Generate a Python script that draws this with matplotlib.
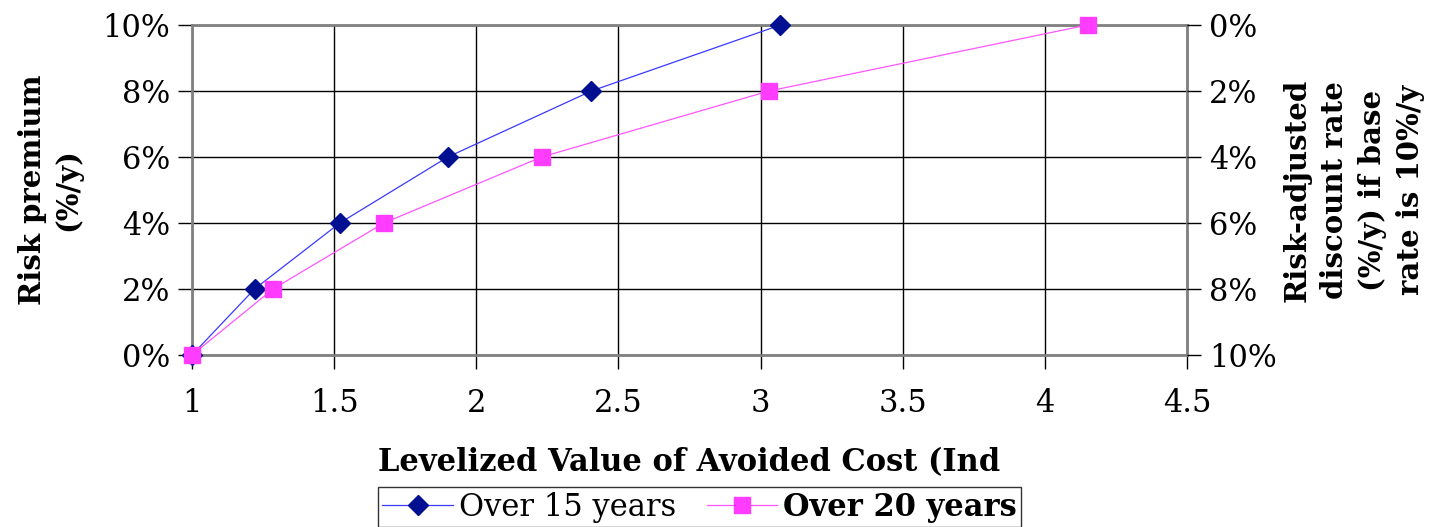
import numpy as np
import matplotlib.pyplot as plt
from matplotlib.ticker import FuncFormatter, MultipleLocator

# Levelized value vs. risk premium, two horizons
risk_premium = [0, 2, 4, 6, 8, 10]
value_15y = [1.0, 1.22, 1.52, 1.90, 2.405, 3.07]
value_20y = [1.0, 1.285, 1.675, 2.23, 3.03, 4.15]
base_rate = 10

plt.rcParams['font.family'] = ['DejaVu Serif']
fig = plt.figure(figsize=(14.35, 5.27), dpi=100)
ax = fig.add_axes([0.1338, 0.3264, 0.6934, 0.6262])

ax.plot(value_15y, risk_premium, color='#3a3aff', lw=0.9, marker='D', ms=10,
        mfc='#001090', mec='#001090', label='Over 15 years', clip_on=False, zorder=4)
ax.plot(value_20y, risk_premium, color='#ff55ff', lw=0.9, marker='s', ms=11,
        mfc='#ff3cff', mec='#ff3cff', label='Over 20 years', clip_on=False, zorder=5)

ax.set_xlim(1, 4.5)
ax.set_ylim(0, 10)
ax.xaxis.set_major_locator(MultipleLocator(0.5))
ax.yaxis.set_major_locator(MultipleLocator(2))
ax.xaxis.set_major_formatter(FuncFormatter(lambda v, p: f'{v:g}'))
ax.yaxis.set_major_formatter(FuncFormatter(lambda v, p: f'{v:.0f}%'))
ax.grid(True, color='black', lw=1)
ax.set_axisbelow(True)
for s in ax.spines.values():
    s.set_color('#808080')
    s.set_linewidth(2)
ax.tick_params(labelsize=22, length=10, width=1, color='black', pad=6)
ax.tick_params(axis='x', pad=14)

ax.set_xlabel('Levelized Value of Avoided Cost (Ind', fontsize=22, fontweight='bold', labelpad=20)
ax.set_ylabel('Risk premium\n(%/y)', fontsize=21, fontweight='bold', labelpad=14, linespacing=1.3)

# right axis: discount rate = base rate - premium
ax2 = ax.twinx()
ax2.set_ylim(0, 10)
ax2.yaxis.set_major_locator(MultipleLocator(2))
ax2.yaxis.set_major_formatter(FuncFormatter(lambda v, p: f'{base_rate - v:.0f}%'))
ax2.tick_params(labelsize=22, length=10, width=1, color='black', pad=6)
for s in ax2.spines.values():
    s.set_visible(False)
ax2.set_ylabel('Risk-adjusted\ndiscount rate\n(%/y) if base\nrate is 10%/y', fontsize=21,
               fontweight='bold', labelpad=4, linespacing=1.38)

leg = fig.legend(loc='upper center', bbox_to_anchor=(0.4875, 0.076), ncol=2, fontsize=22,
                 frameon=True, fancybox=False, edgecolor='black', handlelength=2.3,
                 borderpad=0.15, borderaxespad=0, columnspacing=1.0, handletextpad=0.2)
leg.get_frame().set_linewidth(1)
leg.get_texts()[1].set_fontweight('bold')

fig.savefig('out.png', dpi=100)
